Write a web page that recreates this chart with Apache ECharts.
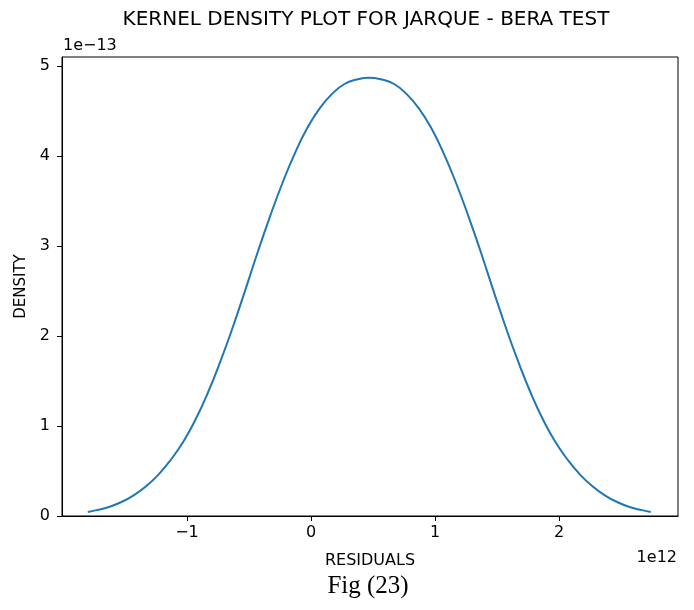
<!DOCTYPE html>
<html>
<head>
<meta charset="utf-8">
<script src="https://cdn.jsdelivr.net/npm/echarts@6/dist/echarts.min.js"></script>
<style>html,body{margin:0;padding:0;background:#fff;}#c{width:694px;height:610px;}</style>
</head>
<body>
<div id="c"></div>
<script>
// Residuals in units of 1e12, density in units of 1e-13
const residuals = [-1.80, -1.73, -1.63, -1.53, -1.43, -1.33, -1.23, -1.13, -1.03, -0.93, -0.83, -0.73, -0.63, -0.53, -0.43, -0.33, -0.23, -0.13, -0.03, 0.07, 0.17, 0.27, 0.37, 0.47, 0.57, 0.67, 0.77, 0.87, 0.97, 1.07, 1.17, 1.27, 1.37, 1.47, 1.57, 1.67, 1.77, 1.87, 1.97, 2.07, 2.17, 2.27, 2.37, 2.47, 2.57, 2.67, 2.74];
const density = [0.045, 0.065, 0.10, 0.155, 0.23, 0.33, 0.46, 0.625, 0.825, 1.075, 1.375, 1.72, 2.10, 2.51, 2.93, 3.33, 3.70, 4.03, 4.31, 4.53, 4.69, 4.80, 4.85, 4.87, 4.85, 4.80, 4.69, 4.53, 4.31, 4.03, 3.70, 3.33, 2.93, 2.51, 2.10, 1.72, 1.375, 1.075, 0.825, 0.625, 0.46, 0.33, 0.23, 0.155, 0.10, 0.065, 0.045];
const xTicks = [-1, 0, 1, 2];
const yTicks = [0, 1, 2, 3, 4, 5];
const titleText = 'KERNEL DENSITY PLOT FOR JARQUE - BERA TEST';
const xName = 'RESIDUALS';
const yName = 'DENSITY';
const xExp = '1e12';
const yExp = '1e\u221213';
const caption = 'Fig (23)';

const fmt = v => (v < 0 ? '\u2212' + Math.abs(v) : String(v));
const font = 'DejaVu Sans';
const chart = echarts.init(document.getElementById('c'), null, {renderer: 'canvas'});
chart.setOption({
  animation: false,
  backgroundColor: '#fff',
  grid: {left: 62, right: 16, top: 57, bottom: 94, show: true, borderColor: '#000', borderWidth: 1, containLabel: false},
  xAxis: {
    type: 'value', min: -2.008, max: 2.96,
    axisLine: {show: true, onZero: false, lineStyle: {color: '#000', width: 1}},
    axisTick: {show: true, length: 5, lineStyle: {color: '#000'}, customValues: xTicks},
    axisLabel: {customValues: xTicks, formatter: fmt, fontFamily: font, fontSize: 16, color: '#000', margin: 9},
    splitLine: {show: false},
    name: xName, nameLocation: 'middle', nameGap: 37, nameTextStyle: {fontFamily: font, fontSize: 16, color: '#000'}
  },
  yAxis: {
    type: 'value', min: 0, max: 5.1,
    axisLine: {show: true, onZero: false, lineStyle: {color: '#000', width: 1}},
    axisTick: {show: true, length: 5, lineStyle: {color: '#000'}, customValues: yTicks},
    axisLabel: {customValues: yTicks, formatter: fmt, fontFamily: font, fontSize: 16, color: '#000', margin: 12},
    splitLine: {show: false},
    name: yName, nameLocation: 'middle', nameGap: 32, nameRotate: 90, nameTextStyle: {fontFamily: font, fontSize: 15, color: '#000'}
  },
  series: [{
    type: 'line', showSymbol: false, smooth: 0.5,
    data: residuals.map((x, i) => [x, density[i]]),
    lineStyle: {color: '#1f77b4', width: 2}
  }],
  graphic: [
    {type: 'text', x: 366, y: 20, style: {text: titleText, font: '20px "DejaVu Sans"', fill: '#000', textAlign: 'center', textVerticalAlign: 'middle'}},
    {type: 'text', x: 63, y: 46, style: {text: yExp, font: '16px "DejaVu Sans"', fill: '#000', textAlign: 'left', textVerticalAlign: 'middle'}},
    {type: 'text', x: 677, y: 558, style: {text: xExp, font: '16px "DejaVu Sans"', fill: '#000', textAlign: 'right', textVerticalAlign: 'middle'}},
    {type: 'text', x: 368, y: 586, style: {text: caption, font: '25px "Liberation Serif"', fill: '#000', textAlign: 'center', textVerticalAlign: 'middle'}}
  ]
});
</script>
</body>
</html>
